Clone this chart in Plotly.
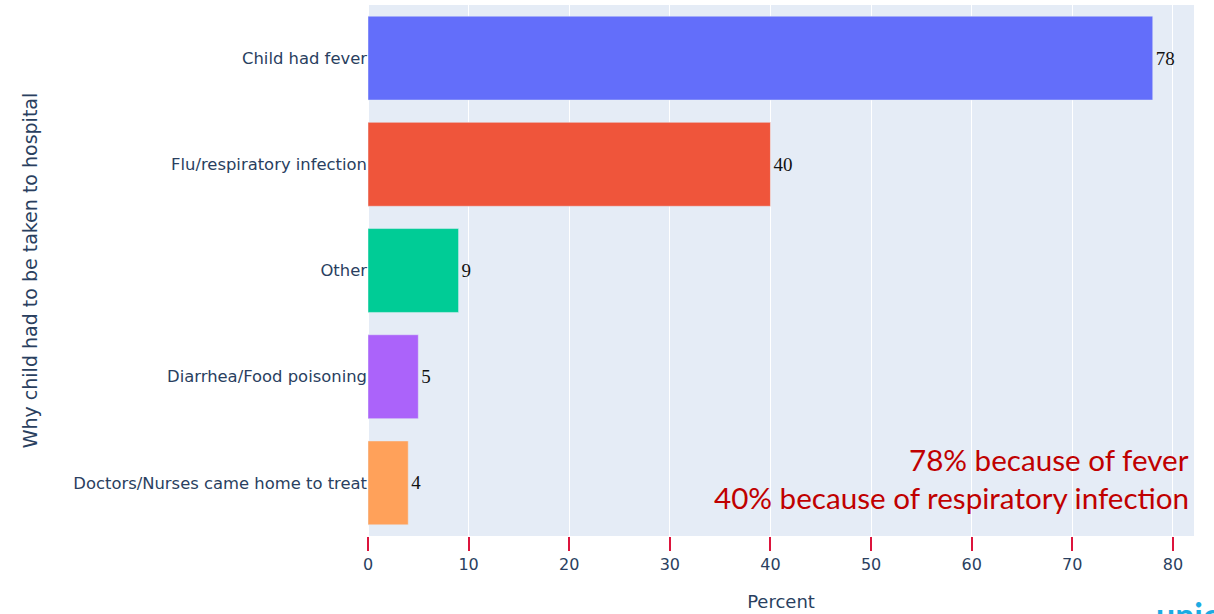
import plotly.graph_objects as go

# Reasons a child had to be taken to hospital (percent of respondents)
reasons = [
    "Child had fever",
    "Flu/respiratory infection",
    "Other",
    "Diarrhea/Food poisoning",
    "Doctors/Nurses came home to treat",
]
percent = [78, 40, 9, 5, 4]
bar_colors = ["#636efa", "#EF553B", "#00cc96", "#ab63fa", "#FFA15A"]
x_ticks = [0, 10, 20, 30, 40, 50, 60, 70, 80]

fig = go.Figure(
    go.Bar(
        x=percent,
        y=reasons,
        orientation="h",
        marker=dict(color=bar_colors),
        text=[str(v) for v in percent],
        textposition="outside",
        textfont=dict(family="Liberation Serif", size=19, color="#111"),
        cliponaxis=False,
    )
)

fig.update_layout(
    width=1214,
    height=614,
    margin=dict(l=368, r=20, t=5, b=78),
    template="plotly",
    showlegend=False,
    font=dict(family="DejaVu Sans", color="#2a3f5f"),
    bargap=0.21,
    annotations=[
        dict(
            xref="paper", yref="paper", x=0.996, y=0.145,
            xanchor="right", yanchor="middle", showarrow=False,
            text="78% because of fever",
            font=dict(family="Lato", size=29.6, color="#C00000"),
        ),
        dict(
            xref="paper", yref="paper", x=0.996, y=0.072,
            xanchor="right", yanchor="middle", showarrow=False,
            text="40% because of respiratory infection",
            font=dict(family="Lato", size=29.6, color="#C00000"),
        ),
        dict(
            xref="paper", yref="paper", x=1.0, y=-0.106,
            xanchor="left", yanchor="top", showarrow=False, xshift=-40,
            text="<b>unicef</b>",
            font=dict(family="Lato", size=34, color="#1CABE2"),
        ),
    ],
)

fig.update_xaxes(
    range=[0, 82.1],
    tickvals=x_ticks,
    ticks="outside",
    ticklen=14,
    tickwidth=2,
    tickcolor="crimson",
    tickfont=dict(size=16),
    title=dict(text="Percent", font=dict(size=18), standoff=22),
)
fig.update_yaxes(
    categoryorder="array",
    categoryarray=reasons[::-1],
    tickfont=dict(size=16.4),
    title=dict(text="Why child had to be taken to hospital", font=dict(size=19), standoff=30),
)

fig.write_html("out.html")
